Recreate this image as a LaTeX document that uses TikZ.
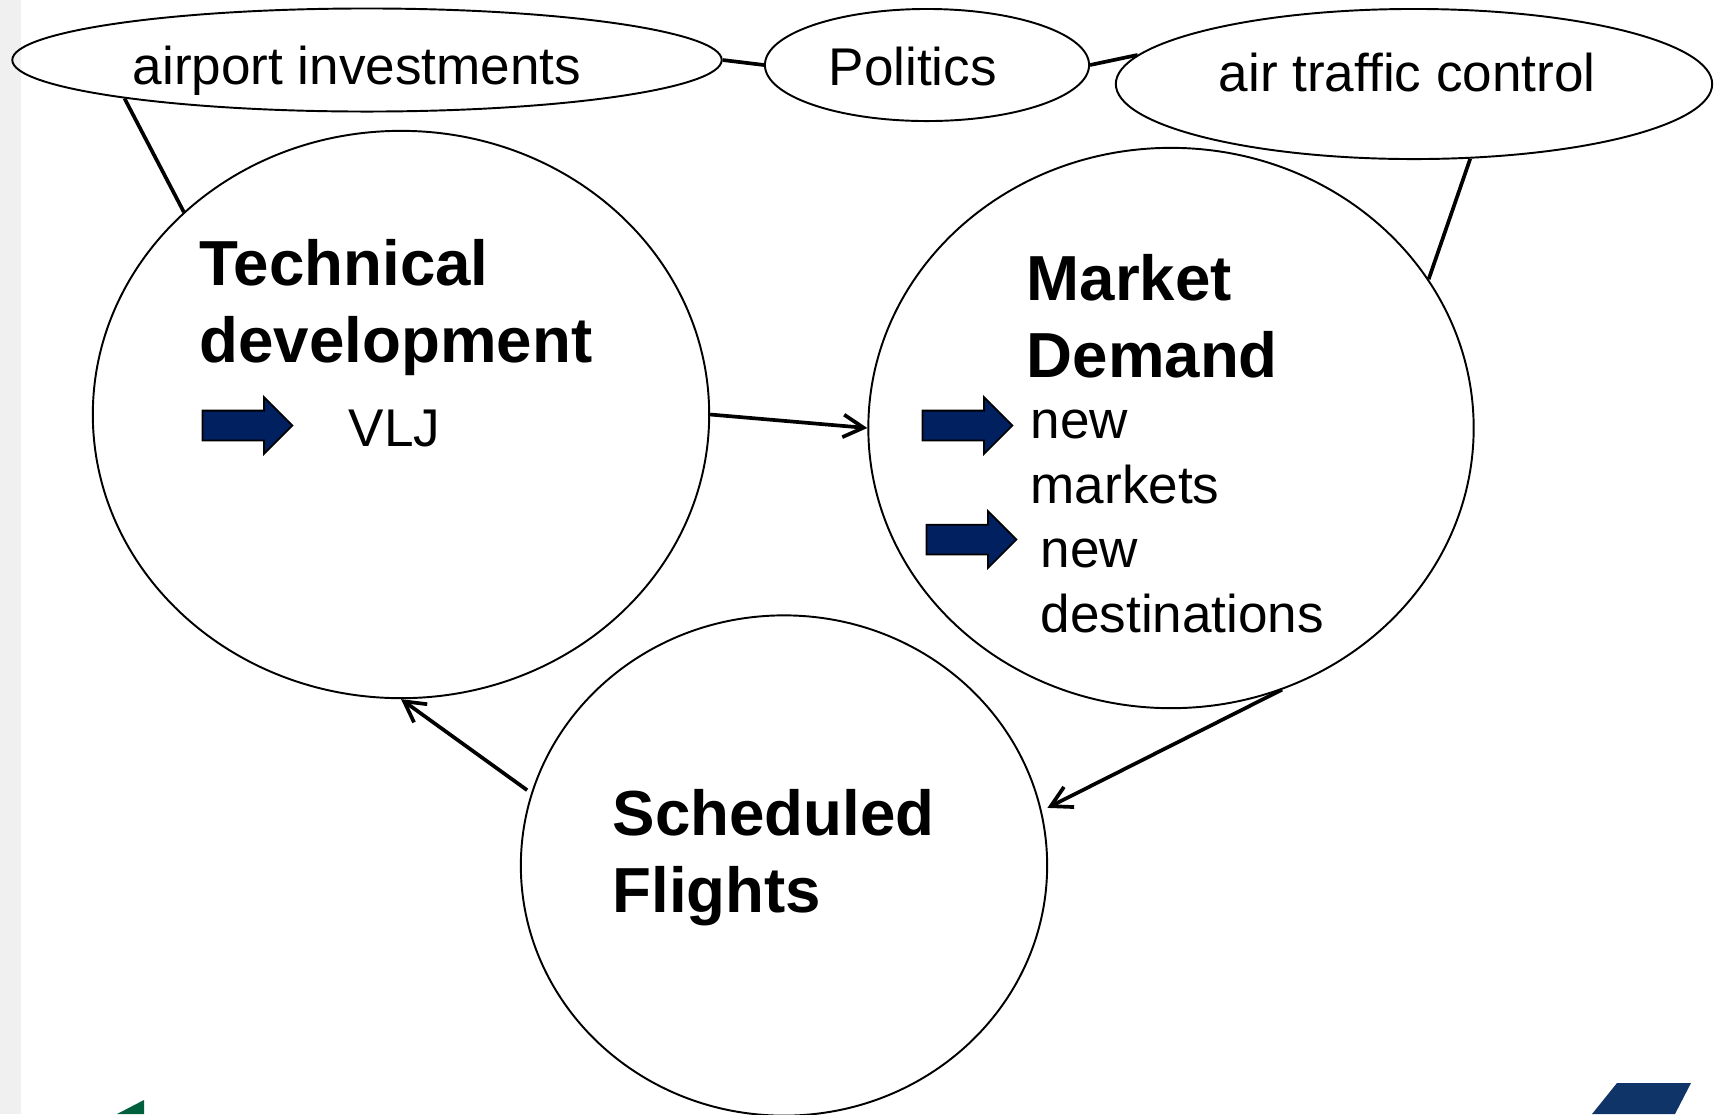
\documentclass[tikz,border=0pt]{standalone}
\usepackage{fontspec}
\setmainfont{Liberation Sans}
\usetikzlibrary{shapes.geometric,shapes.arrows,arrows.meta}
\definecolor{arrowblue}{HTML}{002060}
\definecolor{logogreen}{HTML}{00603C}
\definecolor{logoblue}{HTML}{0F3468}
\definecolor{stripgray}{HTML}{F0F0F0}
\tikzset{
    bubble/.style={draw, ellipse, inner sep=0pt, line width=0.55pt},
    link/.style={line width=1.05pt},
    flow/.style={line width=1.05pt, -{Straight Barb[length=5.8pt,width=6.4pt,line width=1.05pt]}},
    titletext/.style={anchor=base west, inner sep=0pt, align=left, font=\fontsize{18.1}{21.8}\selectfont\bfseries},
    plaintext/.style={anchor=base west, inner sep=0pt, align=left, font=\fontsize{15.1}{18.4}\selectfont},
    blockarrow/.style={draw=black, line width=0.5pt, fill=arrowblue, single arrow, inner sep=0.14cm, minimum height=0.9cm, minimum width=0.55cm, single arrow head extend=0.135cm, single arrow head indent=0pt}
}
\begin{document}
\begin{tikzpicture}[x=0.01cm, y=-0.01cm]
    \useasboundingbox (0,0) rectangle (1715,1114);

    % Page strip and logo corners
    \fill[stripgray] (0,0) rectangle (21,1114);
    \fill[logogreen] (117,1114) -- (144,1100) -- (144,1114) -- cycle;
    \fill[logoblue] (1617,1083) -- (1691,1083) -- (1675,1114) -- (1592,1114) -- cycle;

    % Top ellipses
    \node[bubble, minimum width=7.09cm, minimum height=1.03cm] (airport) at (367,60) {};
    \node[bubble, minimum width=3.24cm, minimum height=1.12cm] (politics) at (927,65) {};
    \node[bubble, minimum width=5.96cm, minimum height=1.5cm] (atc) at (1414,84) {};

    % Big circles
    \node[bubble, minimum width=6.16cm, minimum height=5.67cm] (technical) at (401,414.5) {};
    \node[bubble, minimum width=6.05cm, minimum height=5.6cm] (market) at (1171,428) {};
    \node[bubble, minimum width=5.26cm, minimum height=5cm] (scheduled) at (784,865.5) {};

    % Labels
    \node[plaintext] (airportlabel) at (132,84) {airport investments};
    \node[plaintext] (politicslabel) at (828,85) {Politics};
    \node[plaintext] (atclabel) at (1218,91) {air traffic control};
    \node[titletext] (technicallabel) at (199,362) {Technical\\development};
    \node[titletext] (marketlabel) at (1026,377) {Market\\Demand};
    \node[titletext] (scheduledlabel) at (612,912) {Scheduled\\Flights};
    \node[plaintext] (vljlabel) at (348,446) {VLJ};
    \node[plaintext] (marketslabel) at (1030,503.5) {new\\markets};
    \node[plaintext] (destinationslabel) at (1040,632) {new\\destinations};

    % Block arrows
    \foreach \name/\x/\y in {vlj/240/425.5, markets/960/425.5, destinations/964/539.5} {
        \node[blockarrow] (\name) at (\x,\y) {};
    }

    % Connectors
    \draw[link] (airport.189.2) -- (technical.137);
    \draw[link] (airport.east) -- (politics.west);
    \draw[link] (politics.east) -- (atc.174);
    \draw[link] (atc.-53) -- (market.30);
    \draw[flow] (technical.east) -- (market.west);
    \draw[flow, shorten >=1.8pt] (market.-67) -- (scheduled.12);
    \draw[flow, shorten <=1.4pt] (scheduled.164) -- (technical.south);

\end{tikzpicture}
\end{document}
